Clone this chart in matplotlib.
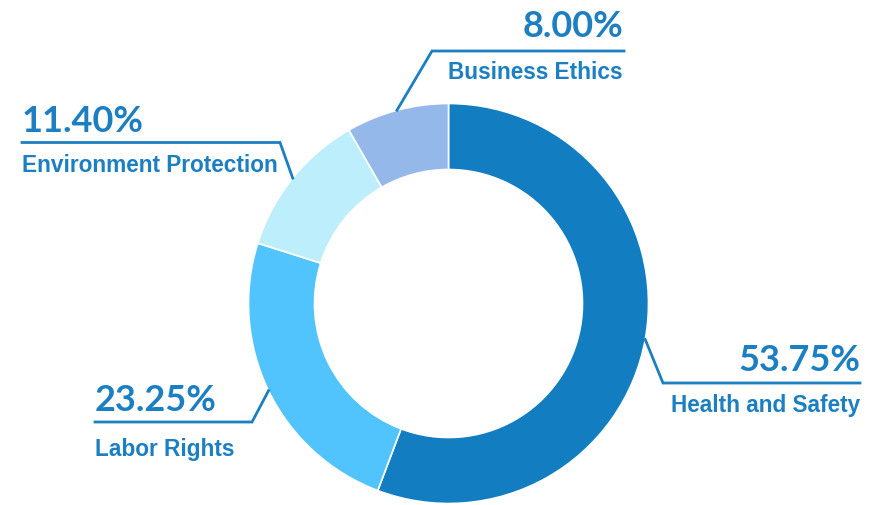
import numpy as np
import matplotlib.pyplot as plt

# share of issues (percent)
categories = ['Health and Safety', 'Labor Rights', 'Environment Protection', 'Business Ethics']
shares = [53.75, 23.25, 11.40, 8.00]
colors = ['#127dc0', '#52c4fd', '#bdeefc', '#94b8ea']

TEXT_COLOR = '#1b7fc2'
W, H = 883, 505
CX, CY, R = 448.5, 303.5, 200.0


def px(x, y):
    """pixel position (origin top-left) -> data units (radius = 1)"""
    return (x - CX) / R, (CY - y) / R


# label layout: elbow of the leader line, end of the horizontal run,
# text side and baselines for value / name
layout = {
    'Health and Safety': dict(elbow=(663, 383), end=860, ha='right', xt=860, val_y=371, name_y=412),
    'Labor Rights': dict(elbow=(252, 422), end=95, ha='left', xt=95, val_y=411, name_y=456),
    'Environment Protection': dict(elbow=(280, 142.5), end=22, ha='left', xt=22, val_y=132, name_y=172),
    'Business Ethics': dict(elbow=(432, 51), end=624, ha='right', xt=623, val_y=37, name_y=79),
}

fig = plt.figure(figsize=(W / 100, H / 100), dpi=100)
ax = fig.add_axes([0, 0, 1, 1])

wedges, _ = ax.pie(
    shares, colors=colors, startangle=90, counterclock=False, radius=1.0,
    wedgeprops=dict(width=0.33, edgecolor='white', linewidth=1.2),
)

for wedge, name, val in zip(wedges, categories, shares):
    mid = np.deg2rad((wedge.theta1 + wedge.theta2) / 2)
    ax0, ay0 = np.cos(mid), np.sin(mid)
    lay = layout[name]
    ex, ey = px(*lay['elbow'])
    hx, _ = px(lay['end'], 0)
    ax.plot([ax0, ex, hx], [ay0, ey, ey], color=TEXT_COLOR, lw=2,
            solid_joinstyle='miter', zorder=3)

    tx, ty = px(lay['xt'], lay['val_y'])
    ax.text(tx, ty, f'{val:.2f}%', ha=lay['ha'], va='baseline',
            fontsize=26, fontweight='bold', family='Lato', color=TEXT_COLOR)
    tx, ty = px(lay['xt'], lay['name_y'])
    ax.text(tx, ty, name, ha=lay['ha'], va='baseline',
            fontsize=16.3, fontweight='bold', family='Liberation Sans', color=TEXT_COLOR)

x0, y1 = px(0, 0)
x1, y0 = px(W, H)
ax.set_xlim(x0, x1)
ax.set_ylim(y0, y1)
ax.set_aspect('equal')
ax.axis('off')

fig.savefig('out.png', dpi=100, facecolor='white')
